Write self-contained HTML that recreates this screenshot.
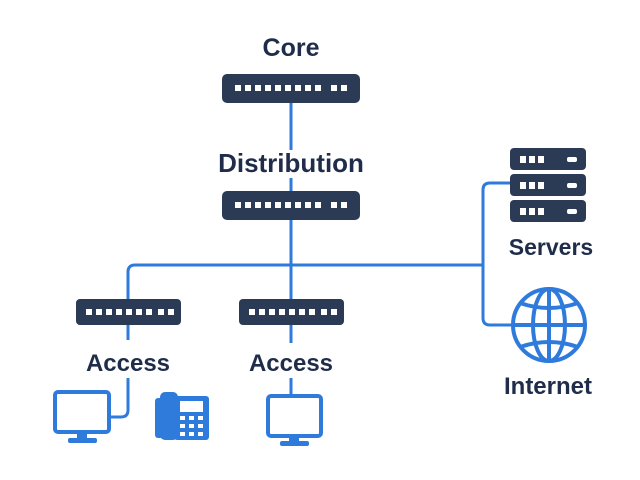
<!DOCTYPE html>
<html><head><style>body{margin:0;background:#fff}svg{display:block}text{font-family:"Liberation Sans",sans-serif;font-weight:bold;fill:#1f2d4a;text-anchor:middle}</style></head><body>
<svg width="640" height="480" viewBox="0 0 640 480">
<g stroke="#2f7bdc" stroke-width="3" fill="none">
<line x1="291" y1="103" x2="291" y2="150"/>
<line x1="291" y1="178" x2="291" y2="191"/>
<line x1="291" y1="220" x2="291" y2="299"/>
<path d="M128 299 V272 Q128 265 135 265 H483"/>
<path d="M510 183 H490 Q483 183 483 190 V318 Q483 325 490 325 H512"/>
<line x1="128" y1="325" x2="128" y2="340"/>
<path d="M128 378 V410 Q128 417 121 417 H108"/>
<line x1="291" y1="325" x2="291" y2="343"/>
<line x1="291" y1="378" x2="291" y2="395"/>
</g>
<g fill="#2b3a55">
<rect x="222" y="74" width="138" height="29" rx="5"/>
<rect x="222" y="191" width="138" height="29" rx="5"/>
<rect x="76" y="299" width="105" height="26" rx="4"/>
<rect x="239" y="299" width="105" height="26" rx="4"/>
<rect x="510" y="148" width="76" height="22" rx="4"/>
<rect x="510" y="174" width="76" height="22" rx="4"/>
<rect x="510" y="200" width="76" height="22" rx="4"/>
</g>
<g fill="#fff">
<g id="p1"><rect x="235" y="85" width="6" height="6"/><rect x="245" y="85" width="6" height="6"/><rect x="255" y="85" width="6" height="6"/><rect x="265" y="85" width="6" height="6"/><rect x="275" y="85" width="6" height="6"/><rect x="285" y="85" width="6" height="6"/><rect x="295" y="85" width="6" height="6"/><rect x="305" y="85" width="6" height="6"/><rect x="315" y="85" width="6" height="6"/><rect x="331" y="85" width="6" height="6"/><rect x="341" y="85" width="6" height="6"/></g>
<use href="#p1" y="117"/>
<g id="p2"><rect x="86" y="309" width="6" height="6"/><rect x="96" y="309" width="6" height="6"/><rect x="106" y="309" width="6" height="6"/><rect x="116" y="309" width="6" height="6"/><rect x="126" y="309" width="6" height="6"/><rect x="136" y="309" width="6" height="6"/><rect x="146" y="309" width="6" height="6"/><rect x="158" y="309" width="6" height="6"/><rect x="168" y="309" width="6" height="6"/></g>
<use href="#p2" x="163"/>
<g id="s"><rect x="520" y="156" width="6" height="7"/><rect x="529" y="156" width="6" height="7"/><rect x="538" y="156" width="6" height="7"/><rect x="567" y="157" width="10" height="5" rx="2"/></g>
<use href="#s" y="26"/><use href="#s" y="52"/>
</g>
<text x="291" y="56" font-size="25">Core</text>
<text x="291" y="172" font-size="26">Distribution</text>
<text x="128" y="371" font-size="24">Access</text>
<text x="291" y="371" font-size="24">Access</text>
<text x="551" y="255" font-size="23">Servers</text>
<text x="548" y="394" font-size="24">Internet</text>
<g fill="none" stroke="#2f7bdc" stroke-width="4">
<rect x="55" y="392" width="54" height="40" rx="3"/>
<rect x="268" y="396" width="53" height="40" rx="3"/>
<circle cx="549" cy="325" r="36"/>
<ellipse cx="549" cy="325" rx="16" ry="36"/>
<line x1="549" y1="289" x2="549" y2="361"/>
<line x1="513" y1="325" x2="585" y2="325"/>
<path d="M520 303 Q549 313 578 303 M520 347 Q549 337 578 347"/>
</g>
<g fill="#2f7bdc">
<rect x="77" y="432" width="10" height="8"/><rect x="68" y="438" width="29" height="5" rx="2"/>
<rect x="289" y="436" width="10" height="7"/><rect x="280" y="441" width="29" height="5" rx="2"/>
<rect x="155" y="398" width="8" height="40" rx="3"/>
<rect x="160" y="392" width="18" height="48" rx="5"/>
<rect x="174" y="396" width="35" height="44" rx="3"/>
</g>
<g fill="#fff">
<rect x="180" y="401" width="23" height="11"/>
<rect x="180" y="416" width="5" height="4"/><rect x="189" y="416" width="5" height="4"/><rect x="198" y="416" width="5" height="4"/>
<rect x="180" y="424" width="5" height="4"/><rect x="189" y="424" width="5" height="4"/><rect x="198" y="424" width="5" height="4"/>
<rect x="180" y="432" width="5" height="4"/><rect x="189" y="432" width="5" height="4"/><rect x="198" y="432" width="5" height="4"/>
</g>
</svg>
</body></html>
